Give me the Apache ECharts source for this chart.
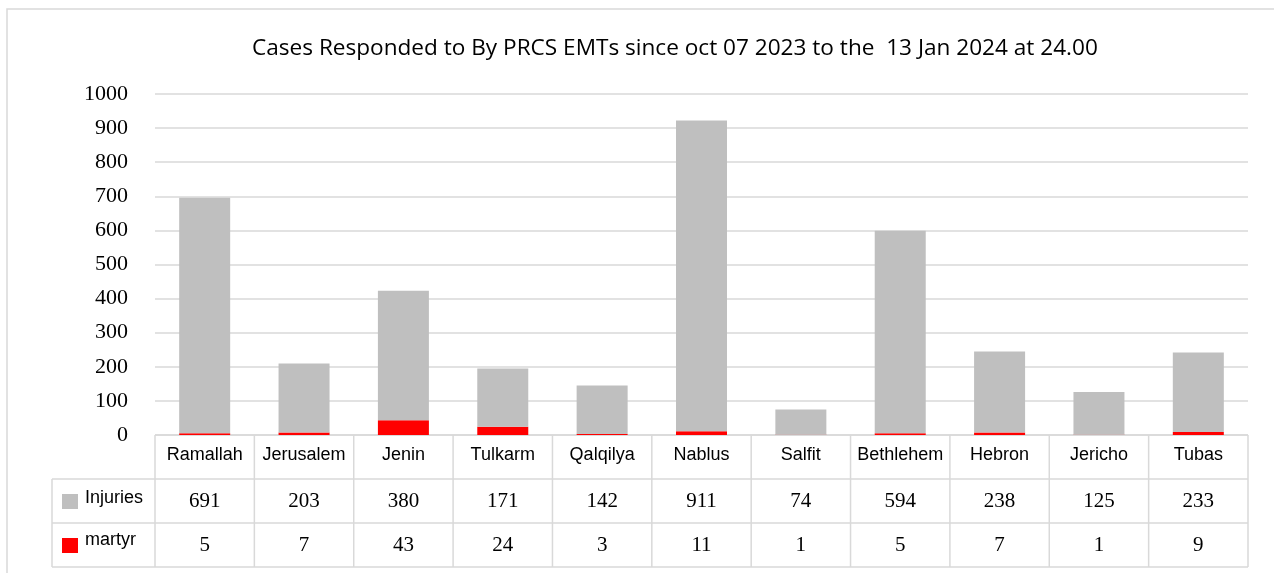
<!DOCTYPE html>
<html>
<head>
<meta charset="utf-8">
<script src="https://cdn.jsdelivr.net/npm/echarts@6/dist/echarts.min.js"></script>
<style>
  html, body { margin: 0; padding: 0; background: #fff; }
  #main { width: 1274px; height: 573px; }
</style>
</head>
<body>
<div id="main"></div>
<script>
var categories = ['Ramallah', 'Jerusalem', 'Jenin', 'Tulkarm', 'Qalqilya', 'Nablus', 'Salfit', 'Bethlehem', 'Hebron', 'Jericho', 'Tubas'];
var injuries = [691, 203, 380, 171, 142, 911, 74, 594, 238, 125, 233];
var martyr = [5, 7, 43, 24, 3, 11, 1, 5, 7, 1, 9];
var yTicks = [0, 100, 200, 300, 400, 500, 600, 700, 800, 900, 1000];

// layout
var gl = 155, gr = 1248, gTop = 94, gBot = 435;
var rowH = 44, legL = 52;
var colW = (gr - gl) / categories.length;
var lineCol = '#d9d9d9';
var serif = '"Liberation Serif", "Times New Roman", serif';
var sans = '"Liberation Sans", Arial, sans-serif';

var myChart = echarts.init(document.getElementById('main'));

var graphics = [
  { type: 'rect', shape: { x: 7, y: 9, width: 1400, height: 700 }, style: { fill: 'none', stroke: lineCol, lineWidth: 1.5 }, silent: true }
];
function hline(x1, x2, y) {
  graphics.push({ type: 'line', shape: { x1: x1, y1: y, x2: x2, y2: y }, style: { stroke: lineCol, lineWidth: 1.5 } });
}
function vline(x, y1, y2) {
  graphics.push({ type: 'line', shape: { x1: x, y1: y1, x2: x, y2: y2 }, style: { stroke: lineCol, lineWidth: 1.5 } });
}
hline(gl, gr, gBot);
hline(legL, gr, gBot + rowH);
hline(legL, gr, gBot + 2 * rowH);
hline(legL, gr, gBot + 3 * rowH);
for (var k = 0; k <= categories.length; k++) vline(gl + k * colW, gBot, gBot + 3 * rowH);
vline(legL, gBot + rowH, gBot + 3 * rowH);

// legend keys inside the table
graphics.push({ type: 'rect', shape: { x: 62, y: gBot + rowH + 15, width: 16, height: 15 }, style: { fill: '#bfbfbf' } });
graphics.push({ type: 'text', x: 85, y: gBot + rowH + rowH / 2 - 3, style: { text: 'Injuries', font: '18px ' + sans, fill: '#000', verticalAlign: 'middle' } });
graphics.push({ type: 'rect', shape: { x: 62, y: gBot + 2 * rowH + 15, width: 16, height: 15 }, style: { fill: '#ff0000' } });
graphics.push({ type: 'text', x: 85, y: gBot + 2 * rowH + rowH / 2 - 5, style: { text: 'martyr', font: '18px ' + sans, fill: '#000', verticalAlign: 'middle' } });

function hiddenAxis(extra) {
  return Object.assign({
    type: 'category',
    data: categories,
    position: 'bottom',
    axisLine: { show: false },
    axisTick: { show: false },
    splitLine: { show: false }
  }, extra);
}

var option = {
  animation: false,
  title: {
    text: 'Cases Responded to By PRCS EMTs since oct 07 2023 to the  13 Jan 2024 at 24.00',
    left: 247,
    top: 32,
    textStyle: { fontFamily: '"Open Sans", "Noto Sans", sans-serif', fontSize: 22.6, fontWeight: 'normal', color: '#000' }
  },
  grid: { left: gl, right: 1274 - gr, top: gTop, bottom: 573 - gBot, containLabel: false },
  xAxis: [
    hiddenAxis({
      axisLabel: { interval: 0, margin: 20, verticalAlign: 'middle', fontFamily: sans, fontSize: 18, color: '#000' }
    }),
    hiddenAxis({
      axisLabel: { interval: 0, margin: 22 + rowH, verticalAlign: 'middle', fontFamily: serif, fontSize: 21, color: '#000',
        formatter: function (v, i) { return String(injuries[i]); } }
    }),
    hiddenAxis({
      axisLabel: { interval: 0, margin: 22 + 2 * rowH, verticalAlign: 'middle', fontFamily: serif, fontSize: 21, color: '#000',
        formatter: function (v, i) { return String(martyr[i]); } }
    })
  ],
  yAxis: {
    type: 'value',
    min: yTicks[0],
    max: yTicks[yTicks.length - 1],
    interval: 100,
    axisLine: { show: false },
    axisTick: { show: false },
    axisLabel: { margin: 27, fontFamily: serif, fontSize: 22, color: '#000', formatter: function (v) { return String(v); } },
    splitLine: { lineStyle: { color: lineCol, width: 1.5 } }
  },
  series: [
    {
      name: 'martyr',
      type: 'bar',
      stack: 'total',
      xAxisIndex: 0,
      barWidth: 51,
      itemStyle: { color: '#ff0000' },
      data: martyr
    },
    {
      name: 'Injuries',
      type: 'bar',
      stack: 'total',
      xAxisIndex: 0,
      barWidth: 51,
      itemStyle: { color: '#bfbfbf' },
      data: injuries
    }
  ],
  graphic: graphics
};
myChart.setOption(option);
</script>
</body>
</html>
